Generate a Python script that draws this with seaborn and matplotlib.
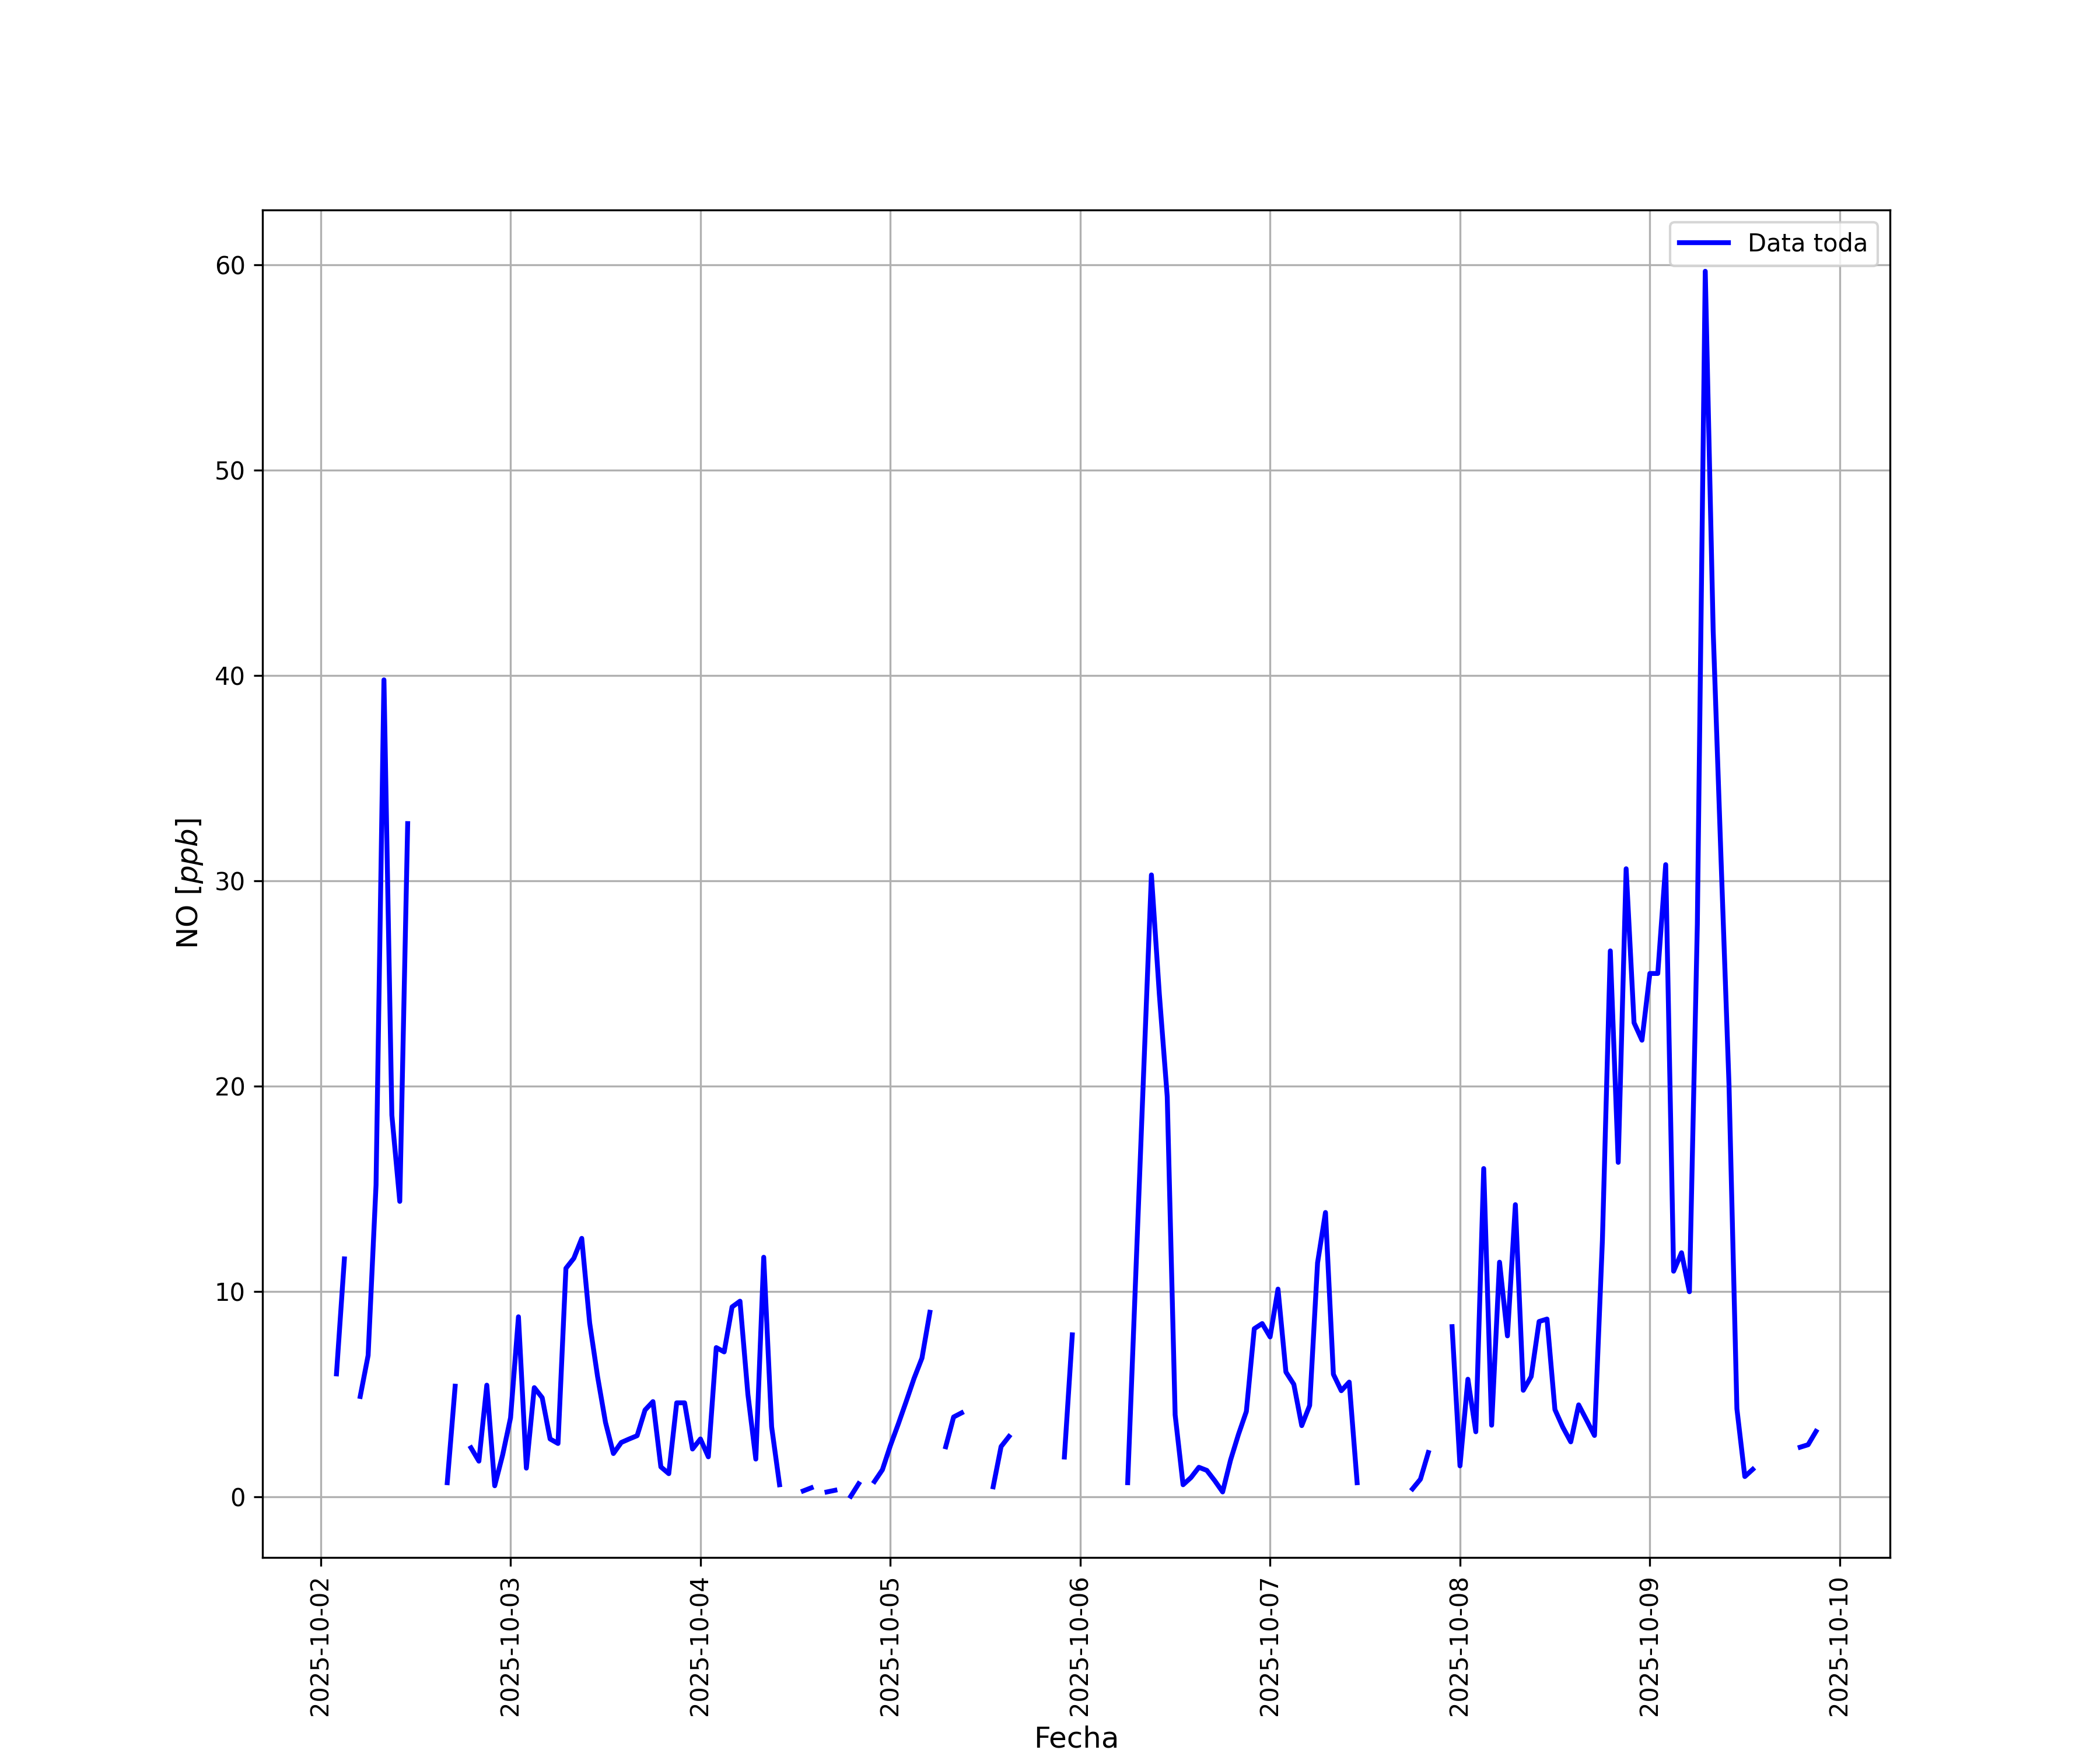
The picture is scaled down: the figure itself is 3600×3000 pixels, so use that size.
import numpy as np
import pandas as pd
import matplotlib
matplotlib.use('Agg')
import matplotlib.pyplot as plt
import seaborn as sns

nan = np.nan

# NO horario [ppb], una lista por día (NaN = sin dato)
oct02 = [6.0, 11.6, nan, 4.9, 6.9, 15.2, 39.8, 18.6, 14.4, 32.8,      # desde 02:00
         nan, nan, nan, nan, 0.7, 5.4, nan, 2.4, 1.75, 5.45, 0.55, 2.05]
oct03 = [3.86, 8.78, 1.41, 5.33, 4.84, 2.83, 2.61, 11.14, 11.63, 12.6, 8.48, 5.87,
         3.64, 2.12, 2.66, 2.83, 2.99, 4.24, 4.65, 1.47, 1.14, 4.59, 4.59, 2.34]
oct04 = [2.83, 1.96, 7.28, 7.07, 9.26, 9.54, 5.0, 1.85, 11.68, 3.42, 0.6, nan,
         nan, 0.3, 0.45, nan, 0.25, 0.33, nan, 0.04, 0.65, nan, 0.76, 1.33]
oct05 = [2.5, 3.55, 4.65, 5.78, 6.77, 9.0, nan, 2.45, 3.9, 4.1, nan, nan,
         nan, 0.5, 2.46, 2.95, nan, nan, nan, nan, nan, nan, 1.95, 7.9]
oct06 = [nan, nan, nan, nan, nan, nan, 0.7, 10.6, 20.5, 30.3, 24.5, 19.5,
         4.0, 0.6, 0.95, 1.45, 1.3, 0.8, 0.25, 1.8, 3.05, 4.17, 8.2, 8.45]
oct07 = [7.8, 10.13, 6.09, 5.49, 3.48, 4.46, 11.41, 13.86, 5.98, 5.18, 5.6, 0.7,
         nan, nan, nan, nan, nan, nan, 0.4, 0.87, 2.17, nan, nan, 8.3]
oct08 = [1.52, 5.74, 3.18, 16.0, 3.5, 11.44, 7.85, 14.24, 5.2, 5.87, 8.55, 8.67,
         4.26, 3.4, 2.69, 4.49, 3.75, 3.0, 12.5, 26.6, 16.3, 30.6, 23.1, 22.25]
oct09 = [25.5, 25.5, 30.8, 11.0, 11.9, 10.0, 27.9, 59.7, 42.2, 31.0, 20.1, 4.3,
         1.0, 1.35, nan, nan, nan, nan, nan, 2.43, 2.55, 3.2]           # hasta 21:00

no_ppb = oct02 + oct03 + oct04 + oct05 + oct06 + oct07 + oct08 + oct09
fecha = pd.date_range('2025-10-02 02:00', periods=len(no_ppb), freq='h')

df = pd.DataFrame({'Fecha': fecha, 'NO': no_ppb})
# tramos continuos, para que los huecos no se unan
df['tramo'] = df['NO'].isna().cumsum()
df = df.dropna()

fig, ax = plt.subplots(figsize=(12, 10))
sns.lineplot(data=df, x='Fecha', y='NO', units='tramo', estimator=None,
             color='blue', linewidth=2, label='Data toda', ax=ax)

handles, labels = ax.get_legend_handles_labels()
ax.legend(handles[:1], labels[:1], loc='upper right')
ax.grid(True)
ax.set_xlabel('Fecha', fontsize=12)
ax.set_ylabel(r'NO [$ppb$]', fontsize=12)
plt.xticks(rotation=90)

plt.savefig('out.png', dpi=300)
